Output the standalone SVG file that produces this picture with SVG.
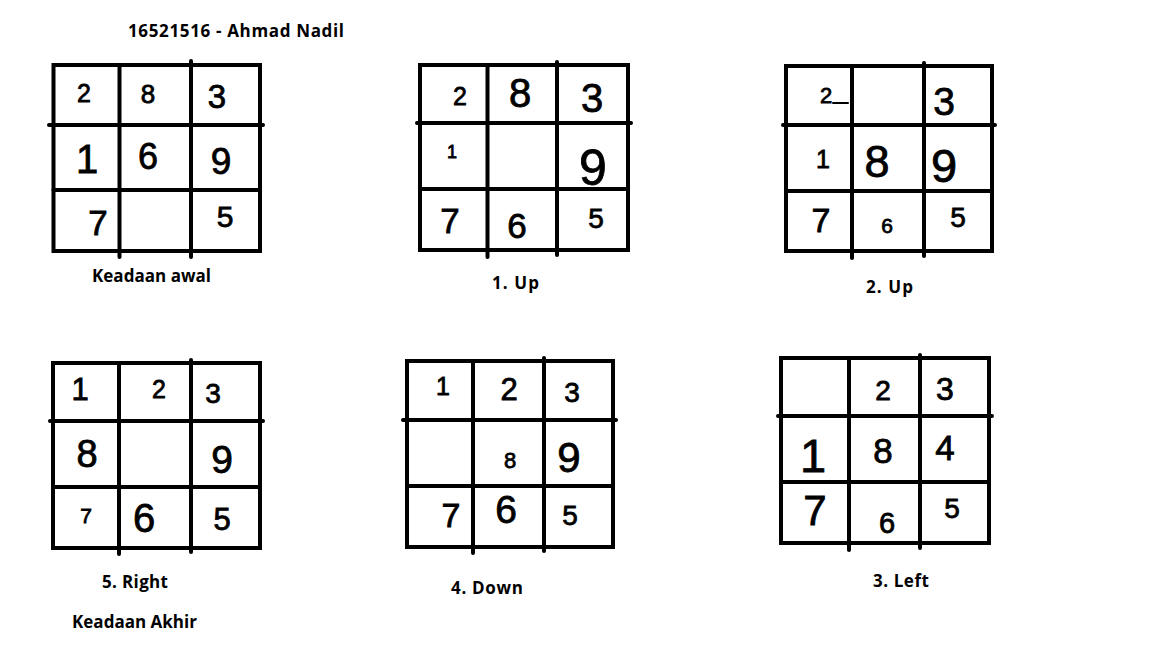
<svg xmlns="http://www.w3.org/2000/svg" width="1152" height="648" viewBox="0 0 1152 648">
<style>
.g line,.g rect{stroke:#000;stroke-width:4;fill:none;stroke-linecap:round}
.d{font-family:"Liberation Sans",Arial,sans-serif;fill:#000;stroke:#000;stroke-width:0.8;text-anchor:middle}
.l{font-family:"Open Sans","Liberation Sans",sans-serif;font-weight:bold;font-size:17px;fill:#000}
</style>
<rect width="1152" height="648" fill="#fff"/>
<text class="l" x="128" y="37" textLength="216">16521516 - Ahmad Nadil</text>

<g id="state0" class="g">
<rect x="53.5" y="65" width="206.5" height="186"/>
<line x1="119.5" y1="65" x2="119.5" y2="257"/>
<line x1="191" y1="61" x2="191" y2="257"/>
<line x1="49" y1="125" x2="263" y2="125"/>
<line x1="53.5" y1="190" x2="260" y2="190"/>
<text class="d" x="84" y="102" font-size="25">2</text>
<text class="d" x="148" y="103" font-size="26">8</text>
<text class="d" x="217" y="108" font-size="33">3</text>
<text class="d" x="87" y="173" font-size="40">1</text>
<text class="d" x="148" y="169" font-size="36">6</text>
<text class="d" x="221" y="174" font-size="37">9</text>
<text class="d" x="98" y="235" font-size="35">7</text>
<text class="d" x="225" y="227" font-size="30">5</text>
<text class="l" x="92" y="282" textLength="119">Keadaan awal</text>
</g>

<g id="state1" class="g">
<rect x="420" y="65" width="208" height="185"/>
<line x1="487.5" y1="65" x2="487.5" y2="257"/>
<line x1="557" y1="62" x2="557" y2="255"/>
<line x1="417" y1="123" x2="631" y2="123"/>
<line x1="420" y1="189" x2="628" y2="189"/>
<text class="d" x="460" y="105" font-size="25">2</text>
<text class="d" x="520" y="107" font-size="40">8</text>
<text class="d" x="592" y="112" font-size="40">3</text>
<text class="d" x="452" y="158" font-size="18">1</text>
<text class="d" x="593" y="185" font-size="50">9</text>
<text class="d" x="450" y="233" font-size="35">7</text>
<text class="d" x="517" y="238" font-size="35">6</text>
<text class="d" x="596" y="228" font-size="28">5</text>
<text class="l" x="492" y="289" textLength="47">1. Up</text>
</g>

<g id="state2" class="g">
<rect x="786" y="66" width="206" height="185"/>
<line x1="852" y1="66" x2="852" y2="258"/>
<line x1="924" y1="63" x2="924" y2="256"/>
<line x1="783" y1="125" x2="995" y2="125"/>
<line x1="786" y1="191" x2="992" y2="191"/>
<text class="d" x="826" y="103" font-size="22">2</text>
<line x1="833" y1="103" x2="848" y2="103" style="stroke-width:2"/>
<text class="d" x="944" y="115" font-size="39">3</text>
<text class="d" x="823" y="168" font-size="25">1</text>
<text class="d" x="877" y="177" font-size="45">8</text>
<text class="d" x="944" y="182" font-size="47">9</text>
<text class="d" x="821" y="232" font-size="34">7</text>
<text class="d" x="887" y="233" font-size="21">6</text>
<text class="d" x="958" y="227" font-size="28">5</text>
<text class="l" x="866" y="293" textLength="47">2. Up</text>
</g>

<g id="state3" class="g">
<rect x="781" y="358" width="208" height="185"/>
<line x1="849" y1="358" x2="849" y2="550"/>
<line x1="920" y1="355" x2="920" y2="548"/>
<line x1="778" y1="416" x2="992" y2="416"/>
<line x1="781" y1="482" x2="989" y2="482"/>
<text class="d" x="883" y="400" font-size="28">2</text>
<text class="d" x="945" y="400" font-size="32">3</text>
<text class="d" x="813" y="472" font-size="47">1</text>
<text class="d" x="883" y="463" font-size="35">8</text>
<text class="d" x="945" y="460" font-size="35">4</text>
<text class="d" x="815" y="525" font-size="42">7</text>
<text class="d" x="887" y="533" font-size="29">6</text>
<text class="d" x="952" y="518" font-size="28">5</text>
<text class="l" x="873" y="587" textLength="56">3. Left</text>
</g>

<g id="state4" class="g">
<rect x="407" y="361" width="206" height="186"/>
<line x1="473" y1="361" x2="473" y2="553"/>
<line x1="544" y1="358" x2="544" y2="551"/>
<line x1="403" y1="420" x2="616" y2="420"/>
<line x1="407" y1="486" x2="613" y2="486"/>
<text class="d" x="443" y="395" font-size="25">1</text>
<text class="d" x="509" y="400" font-size="31">2</text>
<text class="d" x="572" y="402" font-size="28">3</text>
<text class="d" x="510" y="468" font-size="22">8</text>
<text class="d" x="569" y="472" font-size="42">9</text>
<text class="d" x="451" y="527" font-size="34">7</text>
<text class="d" x="506" y="523" font-size="39">6</text>
<text class="d" x="570" y="525" font-size="28">5</text>
<text class="l" x="451" y="594" textLength="72">4. Down</text>
</g>

<g id="state5" class="g">
<rect x="53" y="363" width="207" height="185"/>
<line x1="119" y1="363" x2="119" y2="554"/>
<line x1="191" y1="360" x2="191" y2="552"/>
<line x1="50" y1="421" x2="263" y2="421"/>
<line x1="53" y1="487" x2="260" y2="487"/>
<text class="d" x="80" y="400" font-size="31">1</text>
<text class="d" x="159" y="398" font-size="25">2</text>
<text class="d" x="213" y="403" font-size="28">3</text>
<text class="d" x="87" y="467" font-size="38">8</text>
<text class="d" x="222" y="473" font-size="39">9</text>
<text class="d" x="86" y="523" font-size="21">7</text>
<text class="d" x="144" y="532" font-size="40">6</text>
<text class="d" x="222" y="530" font-size="31">5</text>
<text class="l" x="102" y="588" textLength="66">5. Right</text>
<text class="l" x="72" y="628" textLength="125">Keadaan Akhir</text>
</g>
</svg>
